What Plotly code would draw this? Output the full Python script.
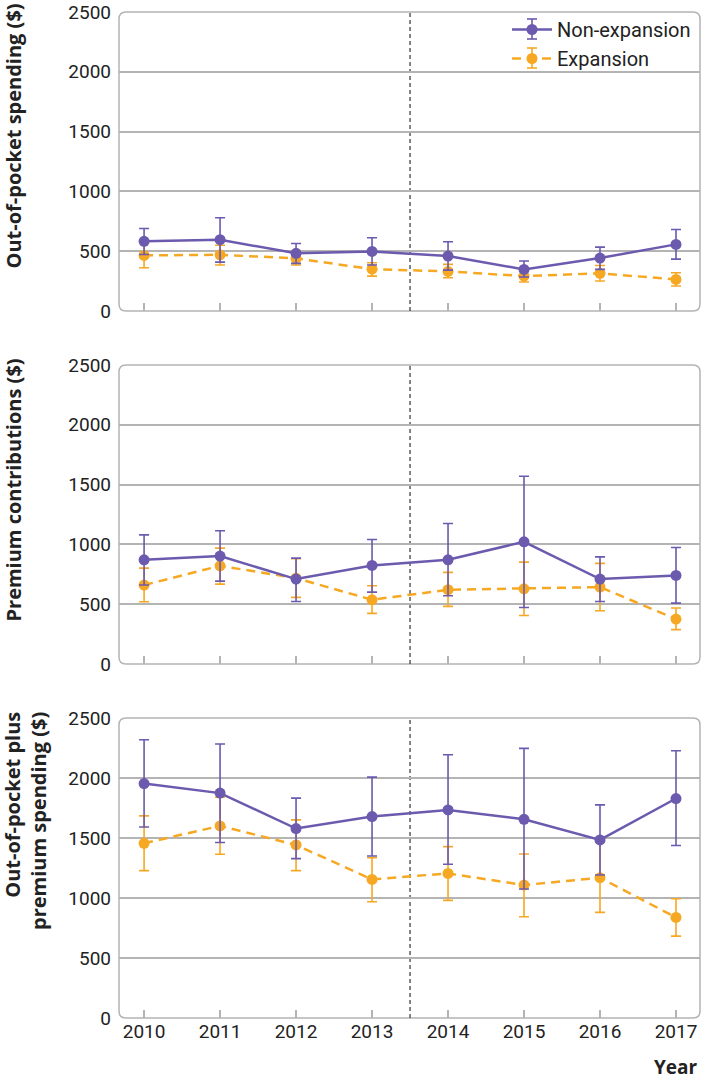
import plotly.graph_objects as go

years = [2010, 2011, 2012, 2013, 2014, 2015, 2016, 2017]

# Panel 1: Out-of-pocket spending
oop_non = [583, 596, 482, 498, 459, 348, 443, 557]
oop_non_lo = [473, 409, 398, 384, 342, 284, 348, 434]
oop_non_hi = [690, 780, 565, 612, 579, 418, 534, 682]
oop_exp = [465, 470, 440, 350, 331, 292, 315, 264]
oop_exp_lo = [362, 384, 384, 292, 278, 242, 251, 209]
oop_exp_hi = [565, 550, 500, 404, 390, 334, 381, 320]

# Panel 2: Premium contributions
prem_non = [871, 902, 710, 824, 871, 1022, 710, 741]
prem_non_lo = [660, 693, 523, 601, 571, 473, 523, 509]
prem_non_hi = [1080, 1114, 885, 1041, 1175, 1570, 896, 974]
prem_exp = [660, 821, 718, 537, 621, 629, 643, 376]
prem_exp_lo = [521, 668, 557, 423, 482, 406, 445, 287]
prem_exp_hi = [802, 969, 880, 654, 766, 852, 841, 468]

# Panel 3: Out-of-pocket plus premium spending
tot_non = [1954, 1874, 1579, 1679, 1734, 1656, 1484, 1829]
tot_non_lo = [1592, 1462, 1328, 1350, 1281, 1075, 1192, 1437]
tot_non_hi = [2319, 2283, 1832, 2007, 2194, 2247, 1776, 2227]
tot_exp = [1456, 1601, 1442, 1155, 1205, 1108, 1169, 838]
tot_exp_lo = [1228, 1364, 1228, 969, 980, 844, 880, 682]
tot_exp_hi = [1684, 1840, 1651, 1336, 1428, 1367, 1462, 994]

y_titles = ["Out-of-pocket spending ($)", "Premium contributions ($)",
            "Out-of-pocket plus<br>premium spending ($)"]
y_ticks = [0, 500, 1000, 1500, 2000, 2500]
series_names = ["Non-expansion", "Expansion"]
policy_year = 2013.5

PURPLE = "#6B5AAE"
ORANGE = "#F7A823"
GRID = "#B4B4B4"
TICKFONT = "Roboto"
TITLEFONT = "Open Sans"

W, H = 702, 1079
panels = [
    (oop_non, oop_non_lo, oop_non_hi, oop_exp, oop_exp_lo, oop_exp_hi),
    (prem_non, prem_non_lo, prem_non_hi, prem_exp, prem_exp_lo, prem_exp_hi),
    (tot_non, tot_non_lo, tot_non_hi, tot_exp, tot_exp_lo, tot_exp_hi),
]
# pixel layout (top, bottom) of each panel, and title anchors
pix = [(12, 311), (365, 664), (718, 1018)]
title_top = [2, 357, 710]
title_x = [13, 13, 25]
XL, XR = 119, 700


def px_x(x):
    return x / W


def px_y(y):
    return 1 - y / H


fig = go.Figure()
shapes = []
annotations = []

for i, (nv, nlo, nhi, ev, elo, ehi) in enumerate(panels):
    idx = "" if i == 0 else str(i + 1)
    xa, ya = "x" + idx, "y" + idx
    top, bot = pix[i]
    d0 = px_y(bot)
    d1 = px_y(top)
    fig.add_trace(go.Scatter(
        x=years, y=ev, xaxis=xa, yaxis=ya, name=series_names[1],
        mode="lines+markers", legendrank=2, showlegend=(i == 0),
        line=dict(color=ORANGE, width=2.5, dash="9px,6px"),
        marker=dict(color=ORANGE, size=11),
        error_y=dict(type="data", symmetric=False,
                     array=[h - v for h, v in zip(ehi, ev)],
                     arrayminus=[v - l for l, v in zip(elo, ev)],
                     color=ORANGE, thickness=1.6, width=5),
    ))
    fig.add_trace(go.Scatter(
        x=years, y=nv, xaxis=xa, yaxis=ya, name=series_names[0],
        mode="lines+markers", legendrank=1, showlegend=(i == 0),
        line=dict(color=PURPLE, width=2.5),
        marker=dict(color=PURPLE, size=11),
        error_y=dict(type="data", symmetric=False,
                     array=[h - v for h, v in zip(nhi, nv)],
                     arrayminus=[v - l for l, v in zip(nlo, nv)],
                     color=PURPLE, thickness=1.6, width=5),
    ))
    fig.update_layout(**{
        ("xaxis" + idx): dict(
            domain=[px_x(XL), px_x(XR)], range=[2009.67, 2017.316],
            tickvals=years, ticks="inside", ticklen=8, tickcolor=GRID,
            tickwidth=1.5, showgrid=False, zeroline=False, automargin=False,
            showticklabels=(i == 2), anchor=ya,
            tickfont=dict(family=TICKFONT, size=19, color="#222"),
        ),
        ("yaxis" + idx): dict(
            domain=[d0, d1], range=[0, 2500], tickvals=y_ticks,
            showgrid=True, gridcolor=GRID, gridwidth=1.5, zeroline=False,
            automargin=False, ticks="", anchor=xa, ticklabelstandoff=7,
            tickfont=dict(family=TICKFONT, size=19, color="#222"),
        ),
    })
    x0, x1 = px_x(XL), px_x(XR)
    y0, y1 = d0, d1
    rx, ry = 7 / W, 7 / H
    path = (f"M {x0+rx},{y1} L {x1-rx},{y1} Q {x1},{y1} {x1},{y1-ry} "
            f"L {x1},{y0+ry} Q {x1},{y0} {x1-rx},{y0} L {x0+rx},{y0} "
            f"Q {x0},{y0} {x0},{y0+ry} L {x0},{y1-ry} Q {x0},{y1} {x0+rx},{y1} Z")
    shapes.append(dict(type="path", path=path, xref="paper", yref="paper",
                       line=dict(color=GRID, width=1.5), layer="below"))
    shapes.append(dict(type="line", xref=xa, yref="paper",
                       x0=policy_year, x1=policy_year, y0=d0, y1=d1,
                       line=dict(color="#333", width=1.2, dash="4px,3px"),
                       layer="below"))
    annotations.append(dict(
        text="<b>" + y_titles[i] + "</b>", textangle=-90, align="right",
        x=px_x(title_x[i]), y=px_y(title_top[i]),
        xref="paper", yref="paper", showarrow=False,
        font=dict(family=TITLEFONT, size=20, color="#222"),
        xanchor="center", yanchor="top",
    ))

# error-bar glyphs on the legend symbols
for color, cy in [(PURPLE, 29), (ORANGE, 58)]:
    cx = 532
    for sx0, sy0, sx1, sy1 in [(cx, cy - 10, cx, cy + 10),
                               (cx - 5, cy - 10, cx + 5, cy - 10),
                               (cx - 5, cy + 10, cx + 5, cy + 10)]:
        shapes.append(dict(type="line", xref="paper", yref="paper",
                           x0=px_x(sx0), y0=px_y(sy0), x1=px_x(sx1), y1=px_y(sy1),
                           line=dict(color=color, width=1.6), layer="above"))

annotations.append(dict(
    text="<b>Year</b>", x=px_x(700), y=px_y(1067),
    xref="paper", yref="paper",
    showarrow=False, xanchor="right", yanchor="middle",
    font=dict(family=TITLEFONT, size=19, color="#222"),
))

fig.update_layout(
    width=W, height=H, margin=dict(l=0, r=0, t=0, b=0, autoexpand=False),
    paper_bgcolor="white", plot_bgcolor="white",
    shapes=shapes, annotations=annotations,
    legend=dict(x=px_x(696), y=px_y(10), xanchor="right",
                yanchor="top", bgcolor="rgba(0,0,0,0)", tracegroupgap=0,
                itemwidth=40,
                font=dict(family=TICKFONT, size=20, color="#222")),
)

fig.write_html(
    "out.html",
    config={"displayModeBar": False},
    post_script="document.body.style.margin='0';"
                "document.body.style.overflow='hidden';",
)
